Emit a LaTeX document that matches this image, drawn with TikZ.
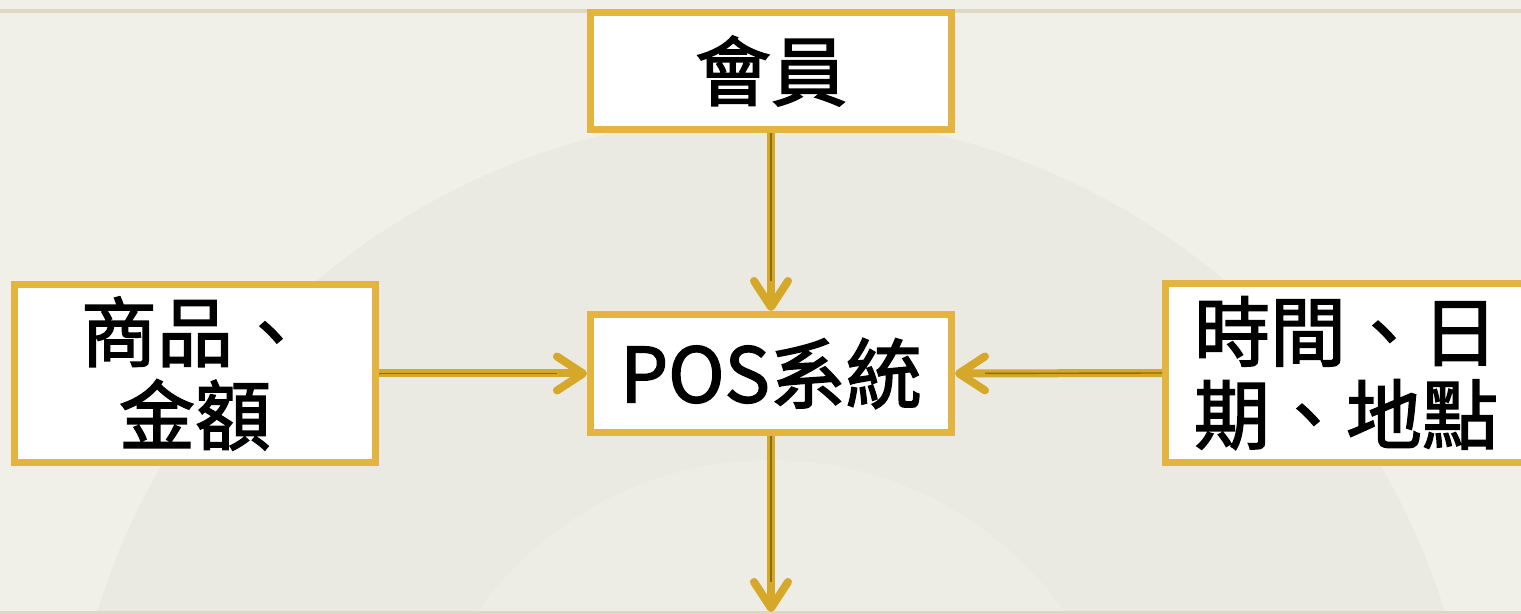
\documentclass[tikz,border=0pt]{standalone}
\usepackage{fontspec}
\newfontfamily\cjk{Noto Sans CJK TC}[FakeBold=2]
\usetikzlibrary{arrows.meta}
\definecolor{bgcol}{HTML}{F0EFE8}
\definecolor{fancol}{HTML}{EBEAE2}
\definecolor{boxgold}{HTML}{E4B440}
\definecolor{arrgold}{HTML}{D6A829}
\definecolor{arrdark}{HTML}{8E6C0C}
\definecolor{toplinecol}{HTML}{DCD8C2}
\tikzset{
  box/.style={draw=boxgold, fill=white, line width=3.5pt, rectangle,
    minimum width=180.5pt, align=center, inner sep=0pt,
    font=\cjk\fontsize{38}{41.5}\selectfont},
  goldarrow/.style={draw=arrgold, line width=4pt,
    -{Straight Barb[length=13pt,width=17pt,line width=4pt,round]}},
  shaftline/.style={draw=arrdark, line width=0.7pt}
}
\begin{document}
\begin{tikzpicture}[x=0.5pt,y=-0.5pt]
\useasboundingbox (0,0) rectangle (1521,614);
\fill[bgcol] (0,0) rectangle (1521,614);
\begin{scope}
\clip (0,0) rectangle (1521,614);
\fill[fancol] (771,820) circle (705);
\fill[bgcol!50!fancol] (771,820) circle (360);
\end{scope}
\draw[toplinecol, line width=2pt] (0,11) -- (1521,11);
\draw[toplinecol, line width=1.5pt] (0,612) -- (1521,612);

\node[box, minimum height=58.5pt] (member) at (771,71) {會員};
\node[box, minimum height=59pt] (pos) at (771,373.5) {POS系統};
\node[box, minimum height=89pt] (goods) at (195,373.5) {商品、\\金額};
\node[box, minimum height=89.5pt] (time) at (1346,373) {時間、日\\期、地點};
\coordinate (out) at (771,612);

\draw[goldarrow] (member.south) -- (pos.north);
\draw[goldarrow] (goods.east) -- (pos.west);
\draw[goldarrow] (time.west) -- (pos.east);
\draw[goldarrow] (pos.south) -- (out);
\draw[shaftline, shorten >=15pt] (member.south) -- (pos.north);
\draw[shaftline, shorten >=15pt] (goods.east) -- (pos.west);
\draw[shaftline, shorten >=15pt] (time.west) -- (pos.east);
\draw[shaftline, shorten >=15pt] (pos.south) -- (out);
\end{tikzpicture}
\end{document}
